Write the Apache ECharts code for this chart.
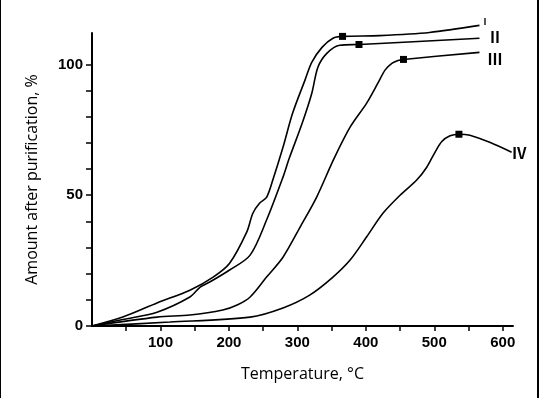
<!DOCTYPE html>
<html>
<head>
<meta charset="utf-8">
<script src="https://cdn.jsdelivr.net/npm/echarts@6/dist/echarts.min.js"></script>
<style>
html, body { margin: 0; padding: 0; background: #fff; }
#main { width: 539px; height: 398px; box-sizing: border-box; border-left: 1px solid #000; border-right: 2px solid #000; }
</style>
</head>
<body>
<div id="main"></div>
<script>
// curve I
var tempI = [0, 45, 95, 143, 177, 201, 226, 235, 245, 255, 264, 279, 293, 311, 321, 336, 352, 366, 420, 493, 566];
var amountI = [0, 3.4, 8.8, 13.7, 18.7, 24, 35.9, 43.1, 47, 49.2, 55.7, 68.3, 81.3, 93.9, 100.8, 106.5, 110, 110.7, 111, 112.2, 114.9];
// curve II
var tempII = [0, 45, 95, 143, 158, 172, 201, 231, 255, 279, 288, 307, 321, 330, 343, 362, 390, 420, 566];
var amountII = [0, 2.5, 5.3, 11.1, 14.9, 16.8, 21.4, 27.1, 40.5, 56.9, 64, 77.5, 88.9, 98.9, 104.2, 107.3, 107.6, 108, 110];
// curve III
var tempIII = [0, 95, 143, 191, 212, 231, 255, 279, 304, 328, 353, 377, 401, 418, 428, 438, 447, 455, 566];
var amountIII = [0, 3.4, 4.2, 6.1, 8, 11.1, 18.7, 26.3, 37.8, 49.2, 63.7, 76, 85.1, 93, 97.8, 100.4, 101.5, 101.9, 104.6];
// curve IV
var tempIV = [0, 114, 231, 279, 318, 352, 377, 401, 425, 450, 474, 489, 501, 511, 523, 536, 552, 581, 613];
var amountIV = [0, 1.5, 3.4, 6.9, 11.8, 18.7, 25.2, 34, 43.1, 50, 55.7, 60.7, 66.4, 70.5, 72.7, 73.3, 72.9, 70.2, 66.4];

var curveNames = ['Ⅰ', 'Ⅱ', 'Ⅲ', 'Ⅳ'];
var markedAt = [17, 16, 17, 15];
var xTicks = [50, 100, 150, 200, 250, 300, 350, 400, 450, 500, 550, 600];
var xLabels = [100, 200, 300, 400, 500, 600];
var yTicks = [0, 10, 20, 30, 40, 50, 60, 70, 80, 90, 100];
var yLabels = [0, 50, 100];

var labelOffsets = [[-7, -4], [0, -1], [0, 7], [-8, 1]];
var labelSizes = [9, 15, 15, 15];

function makeSeries(xs, ys, idx) {
    var data = xs.map(function (x, i) {
        if (i === markedAt[idx]) {
            return { value: [x, ys[i]], symbol: 'rect', symbolSize: 7 };
        }
        return [x, ys[i]];
    });
    return {
        name: curveNames[idx],
        type: 'line',
        smooth: 0.3,
        clip: false,
        symbol: 'none',
        data: data,
        lineStyle: { color: '#000', width: 1.6 },
        itemStyle: { color: '#000' },
        endLabel: {
            show: true,
            formatter: '{a}',
            color: '#000',
            fontFamily: 'Noto Sans CJK SC',
            fontWeight: 'bold',
            fontSize: labelSizes[idx],
            offset: labelOffsets[idx]
        }
    };
}

var myChart = echarts.init(document.getElementById('main'));
var option = {
    animation: false,
    grid: { left: 91, right: 24, top: 33, bottom: 72 },
    xAxis: {
        type: 'value',
        min: 0,
        max: 615,
        interval: 50,
        name: 'Temperature, °C',
        nameLocation: 'middle',
        nameGap: 40,
        nameTextStyle: { fontFamily: 'Open Sans', fontSize: 16, color: '#000' },
        splitLine: { show: false },
        axisLine: { lineStyle: { color: '#000', width: 2 } },
        axisTick: { customValues: xTicks, length: 5, lineStyle: { color: '#000', width: 1.5 } },
        axisLabel: {
            customValues: xLabels,
            margin: 9,
            fontFamily: 'Liberation Sans',
            fontWeight: 'bold',
            fontSize: 15,
            color: '#000'
        }
    },
    yAxis: {
        type: 'value',
        min: 0,
        max: 112,
        interval: 10,
        name: 'Amount after purification, %',
        nameLocation: 'middle',
        nameGap: 52,
        nameTextStyle: { fontFamily: 'Open Sans', fontSize: 16, color: '#000' },
        splitLine: { show: false },
        axisLine: { lineStyle: { color: '#000', width: 2 } },
        axisTick: { customValues: yTicks, length: 6, lineStyle: { color: '#000', width: 1.5 } },
        axisLabel: {
            customValues: yLabels,
            margin: 9,
            fontFamily: 'Liberation Sans',
            fontWeight: 'bold',
            fontSize: 15,
            color: '#000'
        }
    },
    series: [
        makeSeries(tempI, amountI, 0),
        makeSeries(tempII, amountII, 1),
        makeSeries(tempIII, amountIII, 2),
        makeSeries(tempIV, amountIV, 3)
    ]
};
myChart.setOption(option);
</script>
</body>
</html>
